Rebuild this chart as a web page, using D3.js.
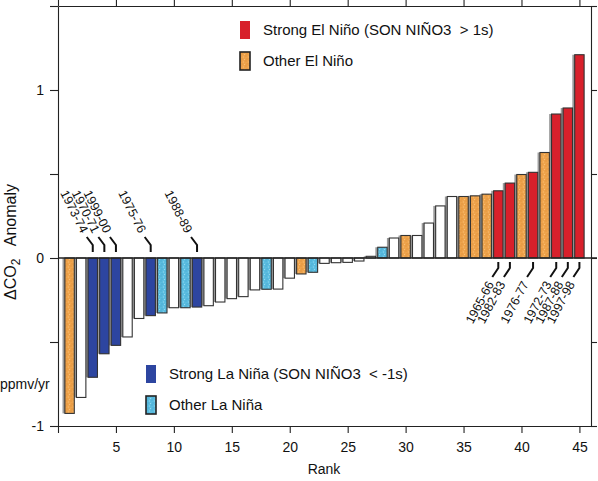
<!DOCTYPE html>
<html>
<head>
<meta charset="utf-8">
<script src="https://d3js.org/d3.v7.min.js"></script>
<style>
  body { margin: 0; background: #fff; }
  text { font-family: "Liberation Sans", Arial, Helvetica, sans-serif; fill: #111; white-space: pre; }
</style>
</head>
<body>
<div id="chart"></div>
<script>

  // CO2 growth anomaly per year, sorted by rank (1..45)
  var values = [-0.925, -0.83, -0.71, -0.57, -0.52, -0.47, -0.36, -0.343, -0.327, -0.296,
                -0.296, -0.292, -0.284, -0.262, -0.242, -0.23, -0.19, -0.186, -0.185, -0.12,
                -0.095, -0.085, -0.032, -0.028, -0.026, -0.018, 0.01, 0.064, 0.119, 0.134,
                0.134, 0.208, 0.31, 0.366, 0.366, 0.37, 0.38, 0.40, 0.446, 0.497,
                0.51, 0.628, 0.857, 0.893, 1.21];

  // ENSO class of each ranked year: N neutral, E other El Nino, SE strong El Nino,
  // L other La Nina, SL strong La Nina
  var classes = ["E", "N", "SL", "SL", "SL", "N", "N", "SL", "L", "N",
                 "L", "SL", "N", "N", "N", "N", "N", "L", "N", "N",
                 "E", "L", "N", "N", "N", "N", "N", "L", "N", "E",
                 "N", "N", "N", "N", "E", "E", "E", "SE", "SE", "E",
                 "SE", "E", "SE", "SE", "SE"];

  var laNinaYears = ["1973-74", "1970-71", "1999-00", "1975-76", "1988-89"];
  var laNinaRanks = [3, 4, 5, 8, 12];
  var elNinoYears = ["1965-66", "1982-83", "1976-77", "1972-73", "1987-88", "1997-98"];
  var elNinoRanks = [38, 39, 41, 43, 44, 45];

  var xTicks = [0, 5, 10, 15, 20, 25, 30, 35, 40, 45];
  var yTicks = [-1, -0.5, 0, 0.5, 1, 1.5];
  var yLabels = [-1, 0, 1];

  var legendTop = [
    {cls: "SE", label: "Strong El Niño (SON NIÑO3\u00a0 > 1s)"},
    {cls: "E", label: "Other El Niño"}
  ];
  var legendBottom = [
    {cls: "SL", label: "Strong La Niña (SON NIÑO3\u00a0 < -1s)"},
    {cls: "L", label: "Other La Niña"}
  ];

  var W = 598, H = 481;

  var svg = d3.select("#chart")
    .append("svg")
      .attr("width", W)
      .attr("height", H);

  // speckled fills for the "other" classes
  var defs = svg.append("defs");
  function speckle(id, base, dark, light) {
    var p = defs.append("pattern")
      .attr("id", id)
      .attr("patternUnits", "userSpaceOnUse")
      .attr("width", 5).attr("height", 5);
    p.append("rect").attr("width", 5).attr("height", 5).attr("fill", base);
    [[0.5, 0.5], [3, 1.5], [1.5, 3.5], [4, 4]].forEach(function(d, i) {
      p.append("rect")
        .attr("x", d[0]).attr("y", d[1])
        .attr("width", 1).attr("height", 1)
        .attr("fill", i % 2 ? light : dark);
    });
  }
  speckle("speckE", "#efa44c", "#d98a34", "#f6be78");
  speckle("speckL", "#5bbde0", "#3d9ccb", "#94d8ef");

  var fill = {
    N: "#ffffff",
    E: "url(#speckE)",
    SE: "#d8202b",
    L: "url(#speckL)",
    SL: "#2d45a0"
  };

  var x = d3.scaleLinear().domain([0, 46]).range([58, 591]);
  var y = d3.scaleLinear().domain([-1, 1.5]).range([426, 6]);

  var barW = 9.4;
  var data = values.map(function(v, i) { return {rank: i + 1, value: v, cls: classes[i]}; });

  // bar shadows
  svg.append("g").selectAll("rect")
    .data(data)
    .enter().append("rect")
      .attr("x", function(d) { return x(d.rank) - barW / 2 - 2.4; })
      .attr("y", function(d) { return Math.min(y(d.value), y(0)); })
      .attr("width", barW)
      .attr("height", function(d) { return Math.abs(y(d.value) - y(0)); })
      .attr("fill", "#9b9b9b");

  // bars
  svg.append("g").selectAll("rect")
    .data(data)
    .enter().append("rect")
      .attr("x", function(d) { return x(d.rank) - barW / 2; })
      .attr("y", function(d) { return Math.min(y(d.value), y(0)); })
      .attr("width", barW)
      .attr("height", function(d) { return Math.abs(y(d.value) - y(0)); })
      .attr("fill", function(d) { return fill[d.cls]; })
      .attr("stroke", "#333")
      .attr("stroke-width", 1.1);

  // zero line
  svg.append("line")
    .attr("x1", x(0)).attr("x2", x(46) + 6)
    .attr("y1", y(0)).attr("y2", y(0))
    .attr("stroke", "#222")
    .attr("stroke-width", 1.3);

  // axes
  svg.append("g")
    .attr("transform", "translate(0," + y(-1) + ")")
    .call(d3.axisBottom(x).tickValues(xTicks).tickSize(7).tickSizeOuter(0).tickPadding(9)
      .tickFormat(function(d) { return d === 0 ? "" : d; }));
  svg.append("g")
    .attr("transform", "translate(0," + y(1.5) + ")")
    .call(d3.axisTop(x).tickValues(xTicks).tickSize(6).tickSizeOuter(0).tickFormat(""));
  svg.append("g")
    .attr("transform", "translate(" + x(0) + ",0)")
    .call(d3.axisLeft(y).tickValues(yTicks).tickSize(8).tickSizeOuter(0).tickPadding(6)
      .tickFormat(function(d) { return yLabels.indexOf(d) >= 0 ? String(d) : ""; }));
  svg.append("g")
    .attr("transform", "translate(" + x(46) + ",0)")
    .call(d3.axisRight(y).tickValues(yTicks).tickSize(6).tickSizeOuter(0).tickFormat(""));

  svg.selectAll(".domain, .tick line").attr("stroke", "#222").attr("stroke-width", 1.1);
  svg.selectAll(".tick text")
    .attr("font-size", 14)
    .attr("font-family", "Liberation Sans, Arial, sans-serif")
    .attr("fill", "#111");

  // axis titles
  svg.append("text")
    .attr("x", 324).attr("y", 474)
    .attr("text-anchor", "middle")
    .attr("font-size", 14)
    .text("Rank");

  var yt = svg.append("text")
    .attr("transform", "translate(16,242) rotate(-90)")
    .attr("text-anchor", "middle")
    .attr("font-size", 16);
  yt.append("tspan").text("ΔCO");
  yt.append("tspan").attr("font-size", 12).attr("dy", 4).text("2");
  yt.append("tspan").attr("dy", -4).text("\u00a0\u00a0 Anomaly");

  svg.append("text")
    .attr("x", 0).attr("y", 389)
    .attr("font-size", 14)
    .text("ppmv/yr");

  // year labels with leader lines
  var lab = svg.append("g");
  laNinaRanks.forEach(function(r, i) {
    var cx = x(r);
    lab.append("path")
      .attr("d", "M" + cx + "," + (y(0) - 6) + "V" + (y(0) - 13) + "L" + (cx - 6) + "," + (y(0) - 21))
      .attr("fill", "none").attr("stroke", "#111").attr("stroke-width", 2);
    lab.append("text")
      .attr("transform", "translate(" + (cx - 8) + "," + (y(0) - 26) + ") rotate(63)")
      .attr("text-anchor", "end")
      .attr("dy", "0.35em")
      .attr("font-size", 12.5)
      .text(laNinaYears[i]);
  });
  elNinoRanks.forEach(function(r, i) {
    var cx = x(r);
    lab.append("path")
      .attr("d", "M" + cx + "," + (y(0) + 4) + "V" + (y(0) + 10) + "L" + (cx - 6) + "," + (y(0) + 19))
      .attr("fill", "none").attr("stroke", "#111").attr("stroke-width", 2);
    lab.append("text")
      .attr("transform", "translate(" + (cx - 8) + "," + (y(0) + 24) + ") rotate(-62)")
      .attr("text-anchor", "end")
      .attr("dy", "0.35em")
      .attr("font-size", 12.5)
      .text(elNinoYears[i]);
  });

  // legends
  function legend(items, x0, y0, gap) {
    var g = svg.append("g").attr("transform", "translate(" + x0 + "," + y0 + ")");
    items.forEach(function(d, i) {
      var strong = d.cls === "SE" || d.cls === "SL";
      g.append("rect")
        .attr("x", 0).attr("y", i * gap - 9)
        .attr("width", 10).attr("height", 18)
        .attr("fill", fill[d.cls])
        .attr("stroke", strong ? "none" : "#222")
        .attr("stroke-width", 1.6);
      g.append("text")
        .attr("x", 23).attr("y", i * gap)
        .attr("dy", "0.35em")
        .attr("font-size", 15)
        .text(d.label);
    });
  }
  legend(legendTop, 240, 30, 31);
  legend(legendBottom, 146, 374, 31);

</script>
</body>
</html>
